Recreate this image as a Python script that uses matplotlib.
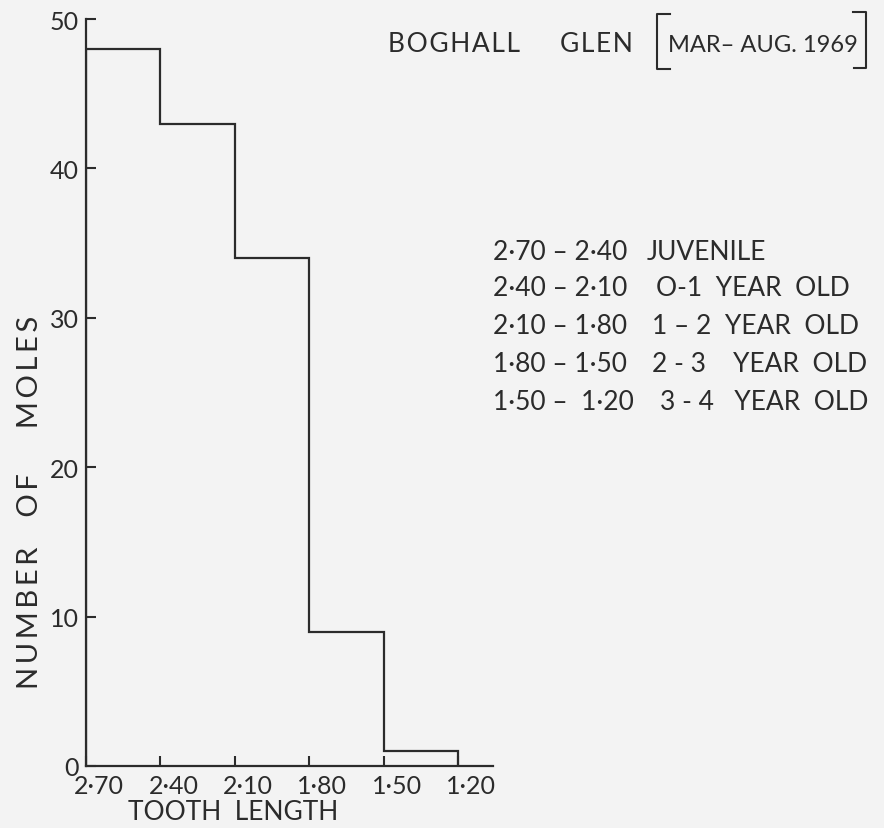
import numpy as np
import matplotlib
matplotlib.use('Agg')
import matplotlib.pyplot as plt
import matplotlib.transforms as mtransforms

plt.rcParams['font.family'] = ['Lato', 'DejaVu Sans']

# tooth length bins (mm) and counts
edges = [2.70, 2.40, 2.10, 1.80, 1.50, 1.20]
counts = [48, 43, 34, 9, 1]
xtick_labels = ['2·70', '2·40', '2·10', '1·80', '1·50', '1·20']
yticks = [0, 10, 20, 30, 40, 50]

key_ranges = ['2·70 – 2·40', '2·40 – 2·10', '2·10 – 1·80', '1·80 – 1·50', '1·50 –  1·20']
key_ages = ['JUVENILE', 'O-1  YEAR  OLD', '1 – 2  YEAR  OLD', '2 - 3    YEAR  OLD', '3 - 4   YEAR  OLD']


def spaced(s, sep='\u2009'):
    # hand lettering is wider than any installed font, open it up a bit
    return ' '.join(sep.join(w) for w in s.split(' '))


ink = '#2b2b2b'
paper = '#f3f3f3'

fig = plt.figure(figsize=(8.84, 8.29), dpi=100, facecolor=paper)
ax = fig.add_axes([86/884, 62/829, 407/884, 747/829])
ax.set_facecolor(paper)

ax.stairs(counts[::-1], edges[::-1], color=ink, lw=1.6)

ax.set_xlim(2.70, 1.059)
ax.set_ylim(0, 50)
ax.set_xticks(edges)
ax.set_xticklabels(xtick_labels)
ax.set_yticks(yticks)

for s in ['top', 'right']:
    ax.spines[s].set_visible(False)
for s in ['left', 'bottom']:
    ax.spines[s].set_color(ink)
    ax.spines[s].set_linewidth(1.6)

ax.tick_params(axis='y', direction='in', length=7, width=1.5, color=ink,
               labelsize=18, labelcolor=ink, pad=5)
ax.tick_params(axis='x', direction='in', length=7, width=1.5, color=ink,
               labelsize=18, labelcolor=ink, pad=6)

# hand lettered tick labels sit a little right of their ticks
shift = mtransforms.ScaledTranslation(13/100, 0, fig.dpi_scale_trans)
for lab in ax.get_xticklabels():
    lab.set_transform(lab.get_transform() + shift)

fig.text(233/884, 1 - 813/829, 'TOOTH  LENGTH', ha='center', va='center',
         fontsize=19, color=ink)
fig.text(30/884, 1 - 502/829, spaced('NUMBER    OF      MOLES'), ha='center', va='center',
         rotation=90, fontsize=21, color=ink)

# title
fig.text(388/884, 1 - 45/829, spaced('BOGHALL', '\u200a'), ha='left', va='center',
         fontsize=19, color=ink)
fig.text(560/884, 1 - 45/829, spaced('GLEN', '\u200a'), ha='left', va='center',
         fontsize=19, color=ink)
fig.text(668/884, 1 - 45/829, 'MAR– AUG. 1969', ha='left', va='center',
         fontsize=17, color=ink)
fig.add_artist(plt.Line2D([670/884, 657/884, 657/884, 670/884],
                          [1 - 15/829, 1 - 15/829, 1 - 70/829, 1 - 70/829],
                          color=ink, lw=1.5))
fig.add_artist(plt.Line2D([853/884, 866/884, 866/884, 854/884],
                          [1 - 13/829, 1 - 13/829, 1 - 69/829, 1 - 69/829],
                          color=ink, lw=1.5))

# key
key_y = [252, 289, 327, 365, 402]
key_x2 = [647, 656, 652, 652, 660]
for r, a, y, x2 in zip(key_ranges, key_ages, key_y, key_x2):
    fig.text(493/884, 1 - y/829, r, ha='left', va='center', fontsize=19, color=ink)
    fig.text(x2/884, 1 - y/829, a, ha='left', va='center', fontsize=19, color=ink)

fig.savefig('out.png', dpi=100, facecolor=paper)
